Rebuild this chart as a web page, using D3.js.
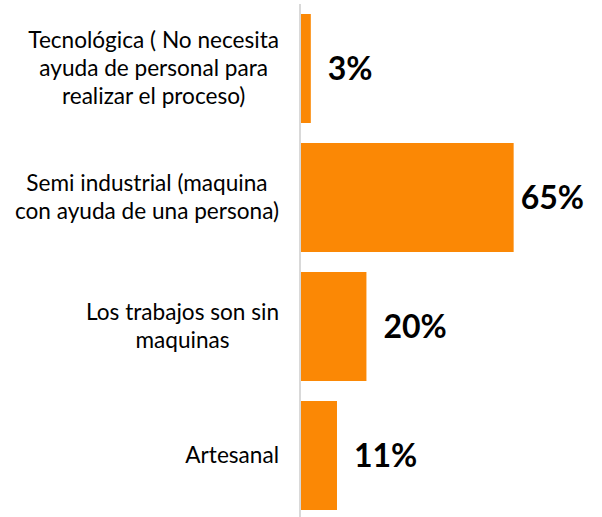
<!DOCTYPE html>
<html>
<head>
<meta charset="utf-8">
<script src="https://cdn.jsdelivr.net/npm/d3@7"></script>
<style>
  html, body { margin: 0; padding: 0; background: #fff; }
  #chart { width: 602px; height: 517px; }
  svg { display: block; font-family: Lato, "Open Sans", sans-serif; }
</style>
</head>
<body>
<div id="chart"></div>
<script>
const categories = [
  ["Tecnológica ( No necesita", "ayuda de personal para", "realizar el proceso)"],
  ["Semi industrial (maquina", "con ayuda de una persona)"],
  ["Los trabajos son sin", "maquinas"],
  ["Artesanal"],
];
const values = [3, 65, 20, 11];
const valueLabels = ["3%", "65%", "20%", "11%"];

const width = 602;
const height = 517;
const axisX = 300;
const labelRight = 279;
const lineHeight = 28;

const svg = d3.select("#chart").append("svg")
  .attr("width", width)
  .attr("height", height);

const y = d3.scaleBand()
  .domain(d3.range(values.length))
  .range([4, 520])
  .paddingInner(0.155)
  .paddingOuter(0.0775);

const x = d3.scaleLinear().domain([0, 70]).range([axisX + 1, 530]);

// bars
svg.append("g")
  .selectAll("rect")
  .data(values)
  .join("rect")
  .attr("x", x(0))
  .attr("y", (d, i) => y(i))
  .attr("width", (d) => x(d) - x(0))
  .attr("height", y.bandwidth())
  .attr("fill", "#FB8805");

// vertical category axis line
svg.append("line")
  .attr("x1", axisX)
  .attr("x2", axisX)
  .attr("y1", 4)
  .attr("y2", height)
  .attr("stroke", "#d9d9d9")
  .attr("stroke-width", 2);

// category labels: lines centred on each other, block right-aligned to axis
const gLabels = svg.append("g").attr("font-size", 22.6).attr("fill", "#000");
categories.forEach((lines, i) => {
  const t = gLabels.append("text");
  const spans = lines.map((s) => t.append("tspan").text(s));
  const widths = spans.map((sp) => sp.node().getComputedTextLength());
  const maxW = d3.max(widths);
  const cx = labelRight - maxW / 2;
  const cy = y(i) + y.bandwidth() / 2;
  const first = cy + 7 - ((lines.length - 1) * lineHeight) / 2;
  spans.forEach((sp, j) => {
    sp.attr("x", cx).attr("y", first + j * lineHeight).attr("text-anchor", "middle");
  });
});

// value labels
svg.append("g")
  .attr("font-size", 32)
  .attr("font-weight", "bold")
  .attr("fill", "#000")
  .selectAll("text")
  .data(values)
  .join("text")
  .attr("y", (d, i) => y(i) + y.bandwidth() / 2)
  .attr("dy", "0.36em")
  .text((d, i) => valueLabels[i])
  .attr("x", function (d) {
    const w = this.getComputedTextLength();
    return Math.min(x(d) + 17, width - 18 - w);
  });
</script>
</body>
</html>
